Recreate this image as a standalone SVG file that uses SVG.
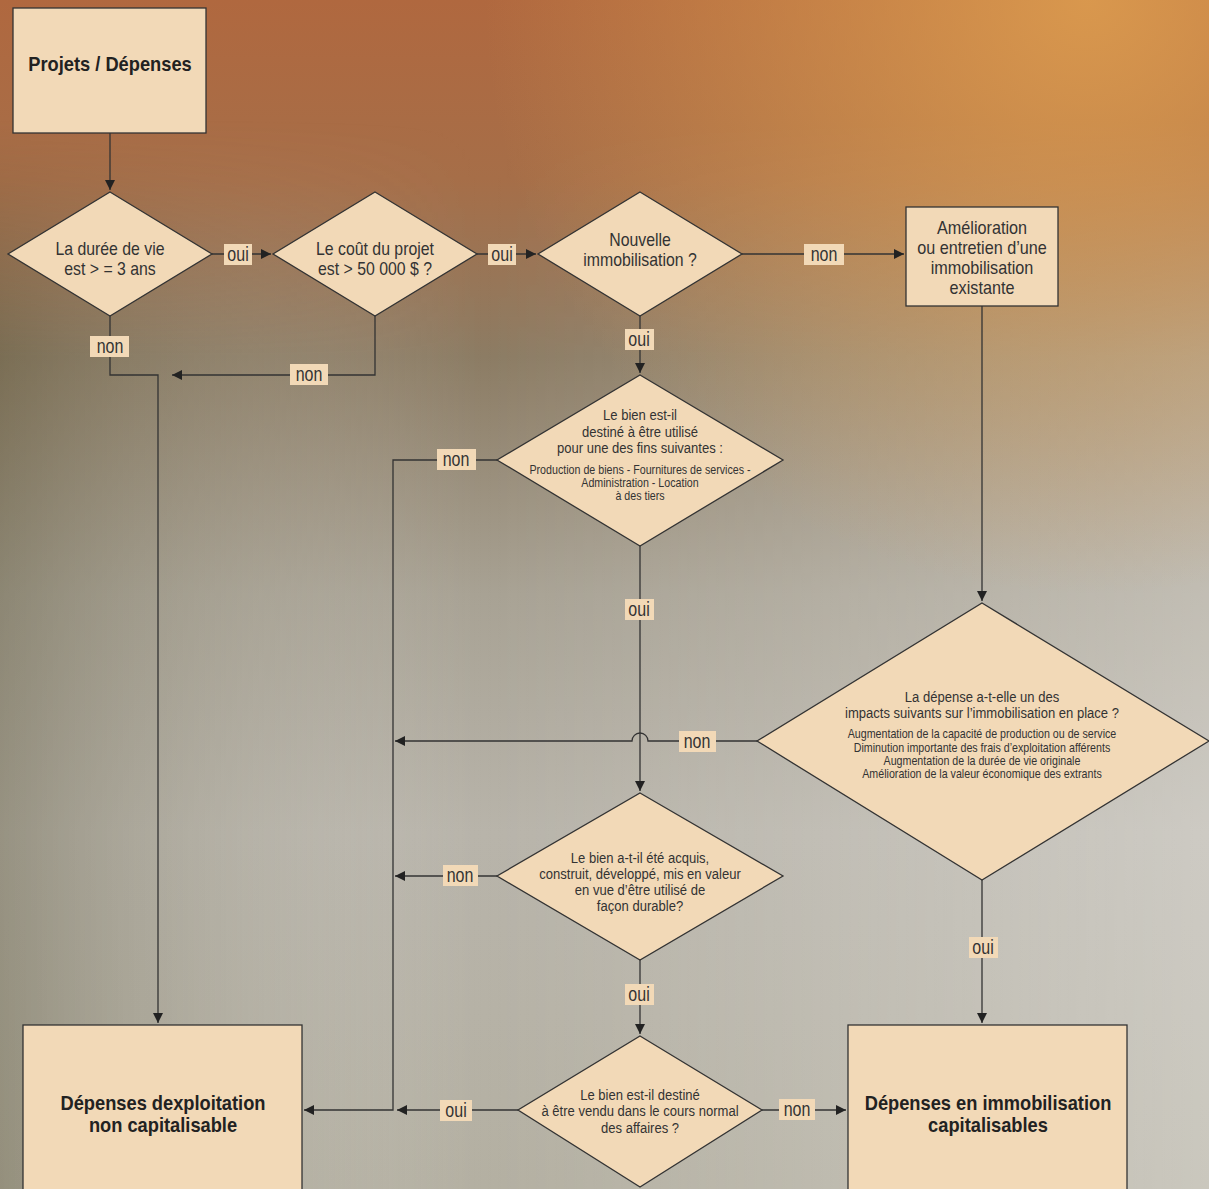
<svg xmlns="http://www.w3.org/2000/svg" width="1209" height="1189" viewBox="0 0 1209 1189">
<defs>
<linearGradient id="bgv" x1="0" y1="0" x2="0" y2="1">
<stop offset="0" stop-color="#b0683f"/>
<stop offset="0.15" stop-color="#a66e48"/>
<stop offset="0.3" stop-color="#8c7c64"/>
<stop offset="0.5" stop-color="#a8a294"/>
<stop offset="0.7" stop-color="#b8b4aa"/>
<stop offset="1" stop-color="#b4b0a2"/>
</linearGradient>
<linearGradient id="bgh" x1="0" y1="0" x2="1" y2="0">
<stop offset="0" stop-color="#5a5438" stop-opacity="0.35"/>
<stop offset="0.4" stop-color="#ffffff" stop-opacity="0"/>
<stop offset="1" stop-color="#ffffff" stop-opacity="0.3"/>
</linearGradient>
<linearGradient id="fade" x1="0" y1="0" x2="0" y2="1">
<stop offset="0.1" stop-color="#fff" stop-opacity="0"/>
<stop offset="0.3" stop-color="#fff" stop-opacity="1"/>
</linearGradient>
<mask id="mk"><rect width="1209" height="1189" fill="url(#fade)"/></mask>
<radialGradient id="bgo" cx="0.9" cy="0" r="0.5">
<stop offset="0" stop-color="#e0a050" stop-opacity="0.85"/>
<stop offset="1" stop-color="#e0a050" stop-opacity="0"/>
</radialGradient>
<marker id="ah" viewBox="0 0 10 10" refX="10" refY="5" markerWidth="10" markerHeight="10" markerUnits="userSpaceOnUse" orient="auto">
<path d="M0,0 L10,5 L0,10 z" fill="#222"/>
</marker>
<style>
.n{fill:#f2d9b7;stroke:#333;stroke-width:1.3}
.t{font-family:"Liberation Sans",Arial,sans-serif;fill:#333;text-anchor:middle}
.m{font-size:18px}
.s{font-size:12.2px}
.sm{font-size:15px}
.b{font-weight:bold;font-size:21px;fill:#222}
.c{fill:none;stroke:#333;stroke-width:1.3}
.lb{fill:#f2d9b7}
.lt{font-family:"Liberation Sans",Arial,sans-serif;fill:#333;text-anchor:middle;font-size:20px}
</style>
</defs>
<rect width="1209" height="1189" fill="url(#bgv)"/>
<rect width="1209" height="1189" fill="url(#bgh)" mask="url(#mk)"/>
<rect width="1209" height="1189" fill="url(#bgo)"/>

<g id="connectors">
<path class="c" d="M110,133 V190" marker-end="url(#ah)"/>
<path class="c" d="M212,254 H271" marker-end="url(#ah)"/>
<path class="c" d="M477,254 H536" marker-end="url(#ah)"/>
<path class="c" d="M742,254 H904" marker-end="url(#ah)"/>
<path class="c" d="M110,316 V375 H158 V1023" marker-end="url(#ah)"/>
<path class="c" d="M375,316 V375 H172" marker-end="url(#ah)"/>
<path class="c" d="M640,316 V373" marker-end="url(#ah)"/>
<path class="c" d="M982,306 V601" marker-end="url(#ah)"/>
<path class="c" d="M497,460 H393 V1110 H304" marker-end="url(#ah)"/>
<path class="c" d="M640,546 V791" marker-end="url(#ah)"/>
<path class="c" d="M757,741 H648 A8,8 0 0 0 632,741 H395" marker-end="url(#ah)"/>
<path class="c" d="M497,876 H395" marker-end="url(#ah)"/>
<path class="c" d="M640,960 V1034" marker-end="url(#ah)"/>
<path class="c" d="M518,1110 H397" marker-end="url(#ah)"/>
<path class="c" d="M762,1110 H846" marker-end="url(#ah)"/>
<path class="c" d="M982,880 V1023" marker-end="url(#ah)"/>
<g id="labels">
<rect class="lb" x="224" y="244" width="28" height="21"/><text class="lt" transform="translate(238,261) scale(.8,1)">oui</text>
<rect class="lb" x="488" y="244" width="28" height="21"/><text class="lt" transform="translate(502,261) scale(.8,1)">oui</text>
<rect class="lb" x="804" y="244" width="40" height="21"/><text class="lt" transform="translate(824,261) scale(.8,1)">non</text>
<rect class="lb" x="90" y="336" width="39" height="21"/><text class="lt" transform="translate(110,353) scale(.8,1)">non</text>
<rect class="lb" x="290" y="364" width="38" height="21"/><text class="lt" transform="translate(309,381) scale(.8,1)">non</text>
<rect class="lb" x="625" y="329" width="29" height="21"/><text class="lt" transform="translate(639,346) scale(.8,1)">oui</text>
<rect class="lb" x="437" y="449" width="39" height="21"/><text class="lt" transform="translate(456,466) scale(.8,1)">non</text>
<rect class="lb" x="625" y="599" width="29" height="21"/><text class="lt" transform="translate(639,616) scale(.8,1)">oui</text>
<rect class="lb" x="679" y="731" width="37" height="21"/><text class="lt" transform="translate(697,748) scale(.8,1)">non</text>
<rect class="lb" x="443" y="865" width="35" height="21"/><text class="lt" transform="translate(460,882) scale(.8,1)">non</text>
<rect class="lb" x="625" y="984" width="29" height="21"/><text class="lt" transform="translate(639,1001) scale(.8,1)">oui</text>
<rect class="lb" x="440" y="1100" width="32" height="21"/><text class="lt" transform="translate(456,1117) scale(.8,1)">oui</text>
<rect class="lb" x="779" y="1099" width="36" height="21"/><text class="lt" transform="translate(797,1116) scale(.8,1)">non</text>
<rect class="lb" x="969" y="937" width="29" height="21"/><text class="lt" transform="translate(983,954) scale(.8,1)">oui</text>
</g>
</g>

<g id="start">
<rect class="n" x="13" y="8" width="193" height="125"/>
<text class="t b" transform="translate(110,71) scale(.87,1)">Projets / Dépenses</text>
</g>
<g id="d-duree">
<polygon class="n" points="110,192 212,254 110,316 8,254"/>
<text class="t m" transform="translate(110,255) scale(.88,1)">La durée de vie</text>
<text class="t m" transform="translate(110,275) scale(.88,1)">est &gt;  = 3 ans</text>
</g>
<g id="d-cout">
<polygon class="n" points="375,192 477,254 375,316 273,254"/>
<text class="t m" transform="translate(375,255) scale(.88,1)">Le coût du projet</text>
<text class="t m" transform="translate(375,275) scale(.88,1)">est &gt; 50 000 $ ?</text>
</g>
<g id="d-nouvelle">
<polygon class="n" points="640,192 742,254 640,316 538,254"/>
<text class="t m" transform="translate(640,246) scale(.88,1)">Nouvelle</text>
<text class="t m" transform="translate(640,266) scale(.88,1)">immobilisation ?</text>
</g>
<g id="amelioration">
<rect class="n" x="906" y="207" width="152" height="99"/>
<text class="t m" transform="translate(982,234) scale(.9,1)">Amélioration</text>
<text class="t m" transform="translate(982,254) scale(.9,1)">ou entretien d’une</text>
<text class="t m" transform="translate(982,274) scale(.9,1)">immobilisation</text>
<text class="t m" transform="translate(982,294) scale(.9,1)">existante</text>
</g>
<g id="d-fins">
<polygon class="n" points="640,375 783,460 640,546 497,460"/>
<text class="t sm" transform="translate(640,420) scale(.87,1)">Le bien est-il</text>
<text class="t sm" transform="translate(640,437) scale(.87,1)">destiné à être utilisé</text>
<text class="t sm" transform="translate(640,453) scale(.87,1)">pour une des fins suivantes :</text>
<text class="t s" transform="translate(640,474) scale(.875,1)">Production de biens - Fournitures de services -</text>
<text class="t s" transform="translate(640,487) scale(.875,1)">Administration - Location</text>
<text class="t s" transform="translate(640,500) scale(.875,1)">à des tiers</text>
</g>
<g id="d-impacts">
<polygon class="n" points="982,603 1209,741 982,880 757,741"/>
<text class="t sm" transform="translate(982,702) scale(.87,1)">La dépense a-t-elle un des</text>
<text class="t sm" transform="translate(982,718) scale(.87,1)">impacts suivants sur l’immobilisation en place ?</text>
<text class="t s" transform="translate(982,738) scale(.875,1)">Augmentation de la capacité de production ou de service</text>
<text class="t s" transform="translate(982,752) scale(.875,1)">Diminution importante des frais d’exploitation afférents</text>
<text class="t s" transform="translate(982,765) scale(.875,1)">Augmentation de la durée de vie originale</text>
<text class="t s" transform="translate(982,778) scale(.875,1)">Amélioration de la valeur économique des extrants</text>
</g>
<g id="d-durable">
<polygon class="n" points="640,793 783,876 640,960 497,876"/>
<text class="t sm" transform="translate(640,863) scale(.87,1)">Le bien a-t-il été acquis,</text>
<text class="t sm" transform="translate(640,879) scale(.87,1)">construit, développé, mis en valeur</text>
<text class="t sm" transform="translate(640,895) scale(.87,1)">en vue d’être utilisé de</text>
<text class="t sm" transform="translate(640,911) scale(.87,1)">façon durable?</text>
</g>
<g id="d-vendu">
<polygon class="n" points="640,1036 762,1110 640,1187 518,1110"/>
<text class="t sm" transform="translate(640,1100) scale(.87,1)">Le bien est-il destiné</text>
<text class="t sm" transform="translate(640,1116) scale(.87,1)">à être vendu dans le cours normal</text>
<text class="t sm" transform="translate(640,1133) scale(.87,1)">des affaires ?</text>
</g>
<g id="exploitation">
<rect class="n" x="23" y="1025" width="279" height="180"/>
<text class="t b" transform="translate(163,1110) scale(.87,1)">Dépenses dexploitation</text>
<text class="t b" transform="translate(163,1132) scale(.87,1)">non capitalisable</text>
</g>
<g id="capitalisables">
<rect class="n" x="848" y="1025" width="279" height="180"/>
<text class="t b" transform="translate(988,1110) scale(.87,1)">Dépenses en immobilisation</text>
<text class="t b" transform="translate(988,1132) scale(.87,1)">capitalisables</text>
</g>
</svg>
